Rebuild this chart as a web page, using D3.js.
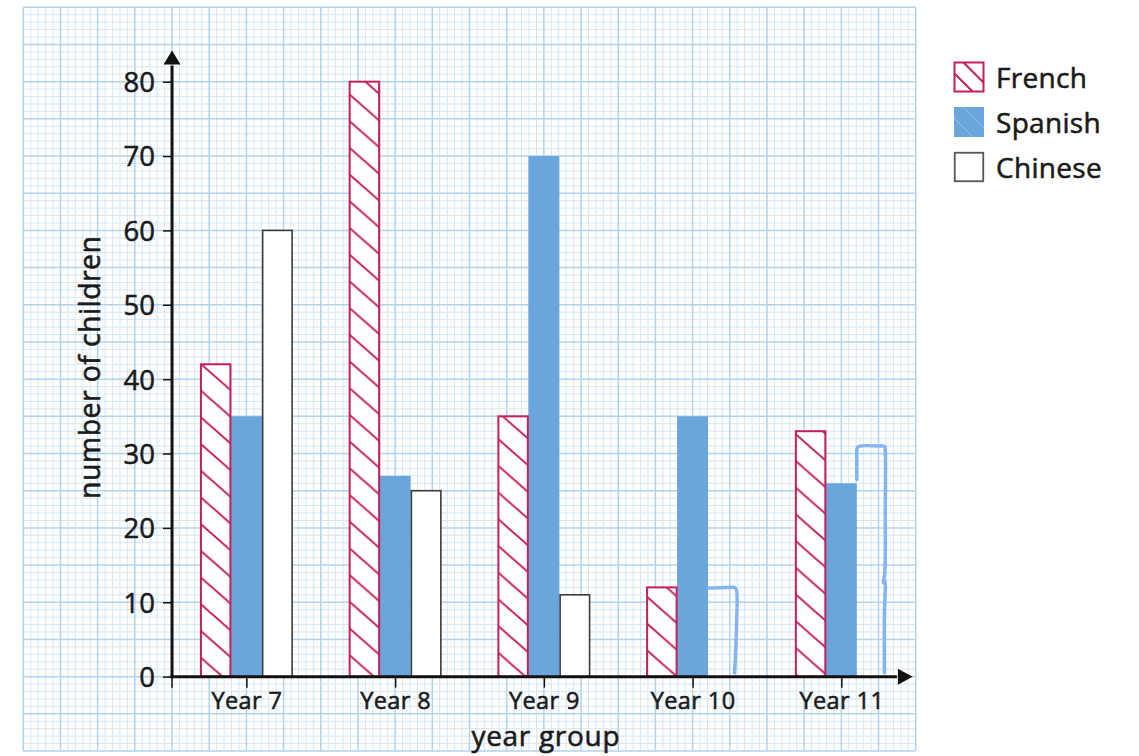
<!DOCTYPE html>
<html><head><meta charset="utf-8">
<script src="https://cdn.jsdelivr.net/npm/d3@7"></script>
<style>
html,body{margin:0;padding:0;background:#fff;}
svg{display:block;}
text{font-family:"Open Sans",sans-serif;fill:#1a1a1a;font-weight:400;stroke:#1a1a1a;stroke-width:0.55px;}
</style></head><body>
<svg id="chart" width="1139" height="756"></svg>
<script>
// ---- data ----
const categories = ["Year 7","Year 8","Year 9","Year 10","Year 11"];
const seriesNames = ["French","Spanish","Chinese"];
const french  = [42, 80, 35, 12, 33];
const spanish = [35, 27, 70, 35, 26];
const chinese = [60, 25, 11, 12, 31];
const chineseHandDrawn = [false, false, false, true, true];
const yTicks = [0,10,20,30,40,50,60,70,80];
const yTitle = "number of children";
const xTitle = "year group";

// ---- styles ----
const CRIMSON = "#c41f5b", BLUE = "#6aa6dc", HAND = "#86b4f2", AXIS = "#111";

const svg = d3.select("#chart");
const x = d3.scaleLinear().domain([-20, 100]).range([23.3, 915.7]);
const y = d3.scaleLinear().domain([-10, 90]).range([751, 7.3]);

const defs = svg.append("defs");
const hw = 30.3, hh = 26.7;
const pat = defs.append("pattern").attr("id","hatch").attr("patternUnits","userSpaceOnUse")
  .attr("width",hw).attr("height",hh);
pat.append("rect").attr("width",hw).attr("height",hh).attr("fill","#fff");
pat.append("path")
  .attr("d",`M-3,${-3*hh/hw} L${hw+3},${hh+3*hh/hw} M${hw-3},${-3*hh/hw} L${hw+3},${3*hh/hw} M-3,${hh-3*hh/hw} L3,${hh+3*hh/hw}`)
  .attr("stroke",CRIMSON).attr("stroke-width",2).attr("fill","none");

// ---- grid ----
const grid = svg.append("g");
const xs = d3.range(-20, 101), ys = d3.range(-10, 91);
const drawGrid = (major) => {
  const st = major ? "#b0d3ef" : "#d3e7f7";
  const sw = major ? 1.5 : 1;
  grid.selectAll(null).data(xs.filter(v => (v % 5 === 0) === major)).enter().append("line")
    .attr("x1", d => x(d)).attr("x2", d => x(d)).attr("y1", y(-10)).attr("y2", y(90))
    .attr("stroke", st).attr("stroke-width", sw);
  grid.selectAll(null).data(ys.filter(v => (v % 5 === 0) === major)).enter().append("line")
    .attr("y1", d => y(d)).attr("y2", d => y(d)).attr("x1", x(-20)).attr("x2", x(100))
    .attr("stroke", st).attr("stroke-width", sw);
};
drawGrid(false); drawGrid(true);

// ---- scales for bars ----
const outer = d3.scaleBand().domain(categories).range([x(0), x(100)]);
const inner = d3.scaleBand().domain(seriesNames).range([0, outer.bandwidth()]).paddingOuter(0.9).paddingInner(0);
const bw = inner.bandwidth();

const rows = categories.map((c, i) => ({c, i, French: french[i], Spanish: spanish[i], Chinese: chinese[i], hand: chineseHandDrawn[i]}));

const bars = svg.append("g");
bars.selectAll(".sp").data(rows).enter().append("rect")
  .attr("x", d => outer(d.c) + inner("Spanish")).attr("width", bw)
  .attr("y", d => y(d.Spanish)).attr("height", d => y(0) - y(d.Spanish))
  .attr("fill", BLUE);
bars.selectAll(".ch").data(rows.filter(d => !d.hand)).enter().append("rect")
  .attr("x", d => outer(d.c) + inner("Chinese") + 0.75).attr("width", bw - 1.5)
  .attr("y", d => y(d.Chinese)).attr("height", d => y(0) - y(d.Chinese))
  .attr("fill", "#fff").attr("stroke", "#3a3a3a").attr("stroke-width", 1.6);
bars.selectAll(".fr").data(rows).enter().append("rect")
  .attr("x", d => outer(d.c) + inner("French") + 1).attr("width", bw - 1.5)
  .attr("y", d => y(d.French)).attr("height", d => y(0) - y(d.French))
  .attr("fill", "url(#hatch)").attr("stroke", CRIMSON).attr("stroke-width", 2);

// Chinese (hand drawn)
const line = d3.line().curve(d3.curveCatmullRom.alpha(0.5));
rows.filter(d => d.hand).forEach(d => {
  const xl = outer(d.c) + inner("Chinese"), xr = xl + bw, v = d.Chinese;
  let pts;
  if (d.Chinese > d.Spanish) {
    pts = [[xl, y(d.Spanish + 0.5)], [xl, y(v - 2)], [xl + 0.5, y(v - 0.2)], [xl + 3, y(v)],
           [xr - 8, y(v)], [xr - 3, y(v) + 0.5], [xr - 2.5, y(v) + 4], [xr - 2.5, y(v - 8)],
           [xr - 3, y(14)], [xr - 4.5, y(12.6)], [xr - 3, y(12.9)], [xr - 3.5, y(8)], [xr - 3.5, y(0.5)]];
  } else {
    pts = [[xl + 0.5, y(v) + 0.5], [xr - 10, y(v)], [xr - 4, y(v) + 0.3], [xr - 2.5, y(v) + 3],
           [xr - 2.5, y(v - 5)], [xr - 3.5, y(3)], [xr - 4.5, y(0.5)]];
  }
  bars.append("path").attr("d", line(pts)).attr("fill", "none").attr("stroke", HAND)
    .attr("stroke-width", 3.5).attr("stroke-linecap", "round").attr("stroke-linejoin", "round");
});

// ---- axes ----
const ax = svg.append("g");
const yAxis = d3.axisLeft(y).tickValues(yTicks).tickSize(9).tickPadding(8).tickFormat(d3.format("d"));
const gy = ax.append("g").attr("transform", `translate(${x(0)},0)`).call(yAxis);
gy.select(".domain").remove();
gy.selectAll(".tick line").attr("stroke", AXIS).attr("stroke-width", 1.5);
gy.selectAll(".tick text").attr("font-size", 27.5).attr("font-family", null).attr("fill", "#1a1a1a").attr("dy", "0.36em");

const xAxis = d3.axisBottom(d3.scaleOrdinal().domain(categories).range(categories.map(c => outer(c) + outer.bandwidth() / 2)))
  .tickSize(11).tickPadding(4.5);
const gx = ax.append("g").attr("transform", `translate(0,${y(0)})`).call(xAxis);
gx.select(".domain").remove();
gx.selectAll(".tick line").attr("stroke", AXIS).attr("stroke-width", 1.5);
gx.selectAll(".tick text").attr("font-size", 23.5).attr("font-family", null).attr("fill", "#1a1a1a")
  .attr("letter-spacing", "0.4px");
ax.append("line").attr("x1", x(0)).attr("x2", x(0)).attr("y1", y(0)).attr("y2", y(0) + 11)
  .attr("stroke", AXIS).attr("stroke-width", 1.5);

const yTip = y(84.2), yBase = y(82.3);
const xTip = x(99.6), xBase = x(97.6);
ax.append("line").attr("x1", x(0)).attr("x2", x(0)).attr("y1", y(0) + 1.5).attr("y2", yBase + 1)
  .attr("stroke", AXIS).attr("stroke-width", 3);
ax.append("path").attr("d", `M${x(0)},${yTip} L${x(0) - 8.5},${yBase} L${x(0) + 8.5},${yBase} Z`).attr("fill", AXIS);
ax.append("line").attr("x1", x(0) - 1.5).attr("x2", xBase - 1).attr("y1", y(0)).attr("y2", y(0))
  .attr("stroke", AXIS).attr("stroke-width", 3);
ax.append("path").attr("d", `M${xTip},${y(0)} L${xBase},${y(0) - 8} L${xBase},${y(0) + 8} Z`).attr("fill", AXIS);

// titles
svg.append("text").attr("transform", `translate(100,${(y(0) + y(84)) / 2 + 3}) rotate(-90)`)
  .attr("text-anchor", "middle").attr("font-size", 28.5).attr("letter-spacing", "0.4px").text(yTitle);
svg.append("text").attr("x", (x(0) + x(100)) / 2 + 2).attr("y", 746)
  .attr("text-anchor", "middle").attr("font-size", 28).attr("letter-spacing", "0.7px").text(xTitle);

// ---- legend ----
const lg = svg.append("g").attr("transform", "translate(954,62)");
const items = lg.selectAll("g").data(seriesNames).enter().append("g")
  .attr("transform", (d, i) => `translate(0,${i * 45})`);
defs.append("clipPath").attr("id", "lgclip").append("rect").attr("width", 30).attr("height", 30);
items.each(function(d) {
  const g = d3.select(this);
  if (d === "French") {
    g.append("rect").attr("width", 30).attr("height", 30).attr("fill", "#fff");
    g.append("path").attr("d", "M9,0 L30,21 M0,11 L19,30").attr("stroke", CRIMSON).attr("stroke-width", 2)
      .attr("clip-path", "url(#lgclip)");
    g.append("rect").attr("x", 0.5).attr("y", 0.5).attr("width", 29).attr("height", 29)
      .attr("fill", "none").attr("stroke", CRIMSON).attr("stroke-width", 2);
  } else if (d === "Spanish") {
    g.append("rect").attr("width", 30).attr("height", 30).attr("fill", BLUE);
    g.append("path").attr("d", "M9,0 L30,21 M0,11 L19,30").attr("stroke", "rgba(255,255,255,0.3)").attr("stroke-width", 1)
      .attr("clip-path", "url(#lgclip)");
  } else {
    g.append("rect").attr("x", 0.75).attr("y", 0.75).attr("width", 28.5).attr("height", 28.5)
      .attr("fill", "#fff").attr("stroke", "#555").attr("stroke-width", 1.8);
  }
  g.append("text").attr("x", 42).attr("y", 25.5).attr("font-size", 28).attr("letter-spacing", "0.3px").text(d);
});
</script>
</body></html>
